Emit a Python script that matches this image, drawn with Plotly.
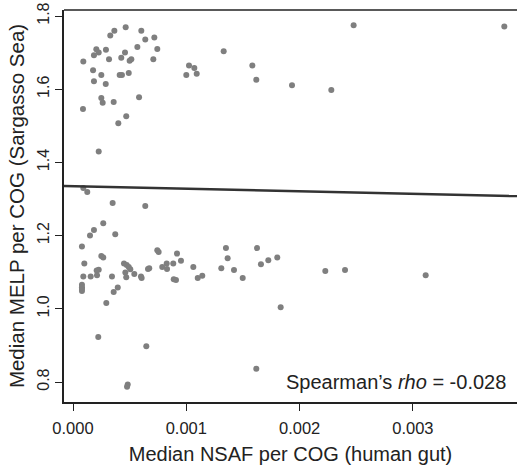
import plotly.graph_objects as go

# Median NSAF per COG (human gut)
nsaf = [
    0.000465, 0.000365, 0.000603, 0.000329, 0.000638, 0.000718, 0.000568, 0.000744,
    0.000206, 0.000227, 0.000291, 0.000185, 0.000459, 0.000426, 0.000318, 0.000500,
    0.000515, 0.000709, 0.000091, 0.001330, 0.000177, 0.000250, 0.000412, 0.000432,
    0.000492, 0.000185, 0.000289, 0.001024, 0.001071, 0.001000, 0.001092, 0.001583,
    0.001618, 0.000583, 0.000250, 0.000262, 0.000359, 0.000088, 0.000470, 0.000400,
    0.000227, 0.002477, 0.003807, 0.001933, 0.002280,
    0.000091, 0.000126, 0.000350, 0.000638, 0.000267, 0.000185, 0.000150, 0.000373,
    0.000079, 0.000744, 0.000756, 0.000250, 0.000267, 0.000100, 0.000450, 0.000474,
    0.000492, 0.000506, 0.000918, 0.000953, 0.000885, 0.000827, 0.000788, 0.000830,
    0.000673, 0.000662, 0.000227, 0.000209, 0.000212, 0.000462, 0.000541, 0.000600,
    0.000606, 0.000470, 0.000344, 0.000156, 0.000091, 0.001062, 0.000889, 0.000909,
    0.001101, 0.001141, 0.001350, 0.001365, 0.001309, 0.001421, 0.001498, 0.001624,
    0.001659, 0.001724, 0.001803, 0.001833, 0.000079, 0.000079, 0.000079, 0.000079,
    0.000395, 0.000359, 0.000294, 0.000223, 0.000647, 0.000483, 0.000477, 0.001618,
    0.002227, 0.002401, 0.003113,
]

# Median MELP per COG (Sargasso Sea)
melp = [
    1.769, 1.760, 1.760, 1.747, 1.736, 1.741, 1.715, 1.710,
    1.709, 1.700, 1.708, 1.693, 1.700, 1.686, 1.682, 1.678,
    1.682, 1.682, 1.676, 1.704, 1.652, 1.639, 1.639, 1.639,
    1.644, 1.622, 1.614, 1.665, 1.658, 1.639, 1.642, 1.665,
    1.626, 1.578, 1.576, 1.563, 1.565, 1.546, 1.526, 1.507,
    1.430, 1.775, 1.771, 1.611, 1.598,
    1.330, 1.319, 1.289, 1.281, 1.234, 1.215, 1.200, 1.204,
    1.170, 1.160, 1.155, 1.144, 1.140, 1.124, 1.124, 1.120,
    1.114, 1.108, 1.151, 1.131, 1.124, 1.124, 1.114, 1.109,
    1.111, 1.109, 1.107, 1.105, 1.092, 1.099, 1.095, 1.088,
    1.084, 1.086, 1.088, 1.088, 1.088, 1.114, 1.081, 1.079,
    1.084, 1.090, 1.166, 1.138, 1.111, 1.106, 1.084, 1.166,
    1.122, 1.133, 1.140, 1.004, 1.066, 1.059, 1.054, 1.049,
    1.058, 1.046, 1.016, 0.923, 0.898, 0.793, 0.787, 0.836,
    1.103, 1.106, 1.092,
]

# fitted regression line
fit_intercept = 1.335
fit_slope = -6.9
x_range = [-0.0000794, 0.003919]
y_range = [0.7454, 1.8164]

x_ticks = [0.000, 0.001, 0.002, 0.003]
x_ticklabels = ["0.000", "0.001", "0.002", "0.003"]
y_ticks = [0.8, 1.0, 1.2, 1.4, 1.6, 1.8]
y_ticklabels = ["0.8", "1.0", "1.2", "1.4", "1.6", "1.8"]

rho_text = "Spearman\u2019s <i>rho</i> = -0.028"

fig = go.Figure()
fig.add_trace(go.Scatter(
    x=nsaf, y=melp, mode="markers",
    marker=dict(size=6, color="#7f7f7f", line=dict(width=0)),
    showlegend=False, hoverinfo="skip", cliponaxis=False,
))
fig.add_trace(go.Scatter(
    x=x_range, y=[fit_intercept + fit_slope * v for v in x_range],
    mode="lines", line=dict(color="#333333", width=2.5),
    showlegend=False, hoverinfo="skip",
))

font_family = "Liberation Sans, Arial, sans-serif"
fig.update_layout(
    width=517, height=465,
    margin=dict(l=64, r=0, t=10, b=63),
    paper_bgcolor="white", plot_bgcolor="white",
    font=dict(family=font_family, size=16, color="#222222"),
    xaxis=dict(
        range=x_range, tickvals=x_ticks, ticktext=x_ticklabels,
        showgrid=False, zeroline=False, automargin=False,
        showline=True, linecolor="#222222", linewidth=1.5,
        ticks="outside", ticklen=7, tickwidth=1, tickcolor="#222222",
        ticklabelstandoff=3,
        tickfont=dict(size=16.5, color="#222222"),
        title=dict(text="Median NSAF per COG (human gut)", font=dict(size=20, color="#222222"), standoff=13),
    ),
    yaxis=dict(
        range=y_range, tickvals=y_ticks, ticktext=y_ticklabels,
        showgrid=False, zeroline=False, automargin=False,
        showline=True, mirror=False, linecolor="#222222", linewidth=1.5,
        ticks="outside", ticklen=7, tickwidth=1, tickcolor="#222222",
        tickangle=-90,
        tickfont=dict(size=16, color="#222222"),
        title=dict(text="Median MELP per COG (Sargasso Sea)", font=dict(size=20.5, color="#222222"), standoff=5),
    ),
    shapes=[dict(
        type="line", xref="paper", yref="paper", x0=0, x1=1, y0=1, y1=1,
        line=dict(color="#222222", width=1.5),
    )],
    annotations=[dict(
        text=rho_text, xref="paper", yref="paper",
        x=0.98, y=0.05, xanchor="right", yanchor="middle",
        showarrow=False, font=dict(size=20, color="#222222"),
    )],
)

fig.write_html(
    "out.html",
    config={"displayModeBar": False},
    post_script="document.body.style.margin='0';document.body.style.overflow='hidden';",
)
